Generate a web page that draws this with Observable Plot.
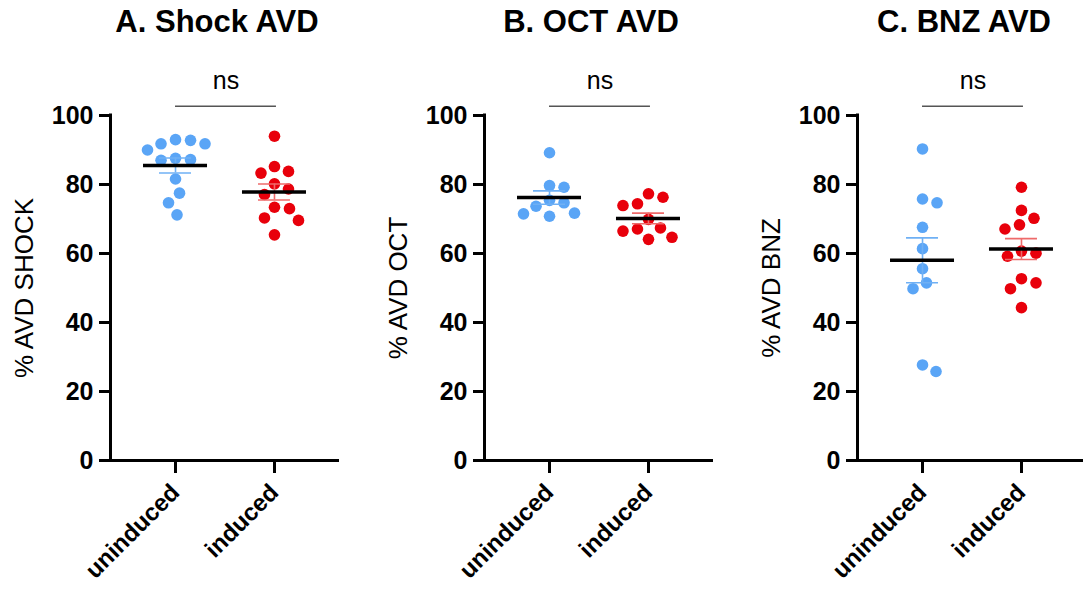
<!DOCTYPE html>
<html><head><meta charset="utf-8">
<script src="https://cdn.jsdelivr.net/npm/d3@7"></script>
<script src="https://cdn.jsdelivr.net/npm/@observablehq/plot@0.6"></script>
<style>
body{margin:0;background:#fff;font-family:"Liberation Sans",Arial,sans-serif;}
#wrap{position:relative;width:1083px;height:589px;overflow:hidden;background:#fff;}
.panel{position:absolute;top:0;height:589px;}
.title{position:absolute;top:7px;font-weight:bold;font-size:31px;line-height:30px;white-space:nowrap;transform:translateX(-50%);color:#000;}
.panel svg{position:absolute;top:50px;left:0;overflow:visible;}
</style></head><body><div id="wrap"></div>
<script>
// ---- data ----
const groups = ["uninduced", "induced"];
const panelTitles = ["A. Shock AVD", "B. OCT AVD", "C. BNZ AVD"];
const yLabels = ["% AVD SHOCK", "% AVD OCT", "% AVD BNZ"];
const sigLabels = ["ns", "ns", "ns"];
const yTicks = [0, 20, 40, 60, 80, 100];
const shockUninduced = [92.8, 91.8, 91.8, 90.0, 93.0, 87.0, 87.2, 87.6, 81.6, 77.5, 74.7, 71.2];
const shockInduced   = [94.0, 83.8, 83.3, 85.2, 80.2, 77.1, 78.7, 73.4, 73.0, 69.6, 70.3, 65.4];
const octUninduced   = [89.2, 79.7, 79.2, 74.7, 75.4, 73.7, 71.7, 71.5, 70.8];
const octInduced     = [77.3, 76.3, 73.9, 74.4, 69.9, 67.4, 67.1, 66.5, 64.7, 64.1];
const bnzUninduced   = [90.3, 75.8, 74.7, 67.6, 61.4, 55.6, 51.5, 49.8, 27.7, 25.8];
const bnzInduced     = [79.2, 72.5, 70.2, 68.3, 67.1, 60.1, 60.7, 59.2, 52.7, 51.5, 49.8, 44.3];

// ---- styles / layout ----
const colors = ["#5AA5F6", "#E8000B"];
const barColors = ["#6FB0F4", "#EE6A6A"];
const font = "'Liberation Sans', Arial, Helvetica, sans-serif";
const layouts = [
  {left: 0,   width: 361, ml: 110, mr: 22},
  {left: 361, width: 361, ml: 123, mr: 9},
  {left: 722, width: 364, ml: 135, mr: 0}
];
const H = 539, MT = 65, MB = 129;
const xDomain = [-0.657, 1.657];
const R = 5.8;

function makePanel(idx, uninduced, induced) {
  const L = layouts[idx];
  const pxPerX = (L.width - L.ml - L.mr) / (xDomain[1] - xDomain[0]);
  const pxPerY = (H - MT - MB) / 100;
  const pts = [];
  [uninduced, induced].forEach((vals, gi) => {
    const placed = [];
    const order = vals.map(v => v).sort((a, b) => b - a);
    for (const v of order) {
      const py = v * pxPerY;
      let off = 0;
      for (let k = 0; k < 800; k++) {
        const cand = (k % 2 ? 1 : -1) * Math.ceil(k / 2) * 0.5;
        if (placed.every(q => Math.hypot(q.ox - cand, q.py - py) >= 2 * R + 3)) { off = cand; break; }
      }
      placed.push({ox: off, py});
      pts.push({gi, value: v, x: gi + off / pxPerX, fill: colors[gi]});
    }
  });
  const stats = [uninduced, induced].map((vals, gi) => {
    const m = d3.mean(vals), s = d3.deviation(vals) / Math.sqrt(vals.length);
    return {gi, mean: m, lo: m - s, hi: m + s, stroke: barColors[gi]};
  });
  const meanHalf = 32 / pxPerX, capHalf = 16 / pxPerX;
  const caps = stats.flatMap(s => [{gi: s.gi, y: s.lo, stroke: s.stroke}, {gi: s.gi, y: s.hi, stroke: s.stroke}]);

  const svg = Plot.plot({
    width: L.width, height: H,
    marginLeft: L.ml, marginRight: L.mr, marginTop: MT, marginBottom: MB,
    style: {fontFamily: font, fontSize: "24px", fontWeight: "bold", color: "#000", background: "transparent", overflow: "visible"},
    x: {type: "linear", domain: xDomain, axis: null},
    y: {domain: [0, 100], axis: null},
    color: {type: "identity"},
    marks: [
      Plot.dot(pts, {x: "x", y: "value", r: R, fill: "fill", stroke: "none"}),
      Plot.ruleX(stats, {x: "gi", y1: "lo", y2: "hi", stroke: "stroke", strokeWidth: 1.6}),
      Plot.ruleY(caps, {y: "y", x1: d => d.gi - capHalf, x2: d => d.gi + capHalf, stroke: "stroke", strokeWidth: 1.6}),
      Plot.ruleY(stats, {y: "mean", x1: d => d.gi - meanHalf, x2: d => d.gi + meanHalf, stroke: "#000", strokeWidth: 3.5}),
      Plot.ruleX([xDomain[0]], {y1: 0, y2: 100, stroke: "#000", strokeWidth: 3, strokeLinecap: "square"}),
      Plot.ruleY([0], {x1: xDomain[0], x2: xDomain[1], stroke: "#000", strokeWidth: 3}),
      Plot.axisY({ticks: yTicks, tickSize: 11, tickPadding: 6, strokeWidth: 3, fontSize: 25, fontWeight: "bold", label: null}),
      Plot.axisX({ticks: [0, 1], tickFormat: i => groups[i], tickSize: 13, tickPadding: 15, strokeWidth: 3, tickRotate: -45, fontSize: 24, fontWeight: "bold", label: null}),
      Plot.ruleY([102.7], {x1: 0, x2: 1.02, stroke: "#555", strokeWidth: 1.5}),
      Plot.text([sigLabels[idx]], {x: 0.51, y: 110, text: d => d, fontSize: 25, fontWeight: "normal"}),
      Plot.text([yLabels[idx]], {frameAnchor: "left", dx: -86, rotate: -90, textAnchor: "middle", text: d => d, fontSize: 26, fontWeight: "normal"})
    ]
  });

  const div = document.createElement("div");
  div.className = "panel";
  div.style.left = L.left + "px";
  div.style.width = L.width + "px";
  const t = document.createElement("div");
  t.className = "title";
  t.textContent = panelTitles[idx];
  t.style.left = (L.ml + 107) + "px";
  div.appendChild(t);
  div.appendChild(svg);
  document.getElementById("wrap").appendChild(div);
}

makePanel(0, shockUninduced, shockInduced);
makePanel(1, octUninduced, octInduced);
makePanel(2, bnzUninduced, bnzInduced);
</script></body></html>
